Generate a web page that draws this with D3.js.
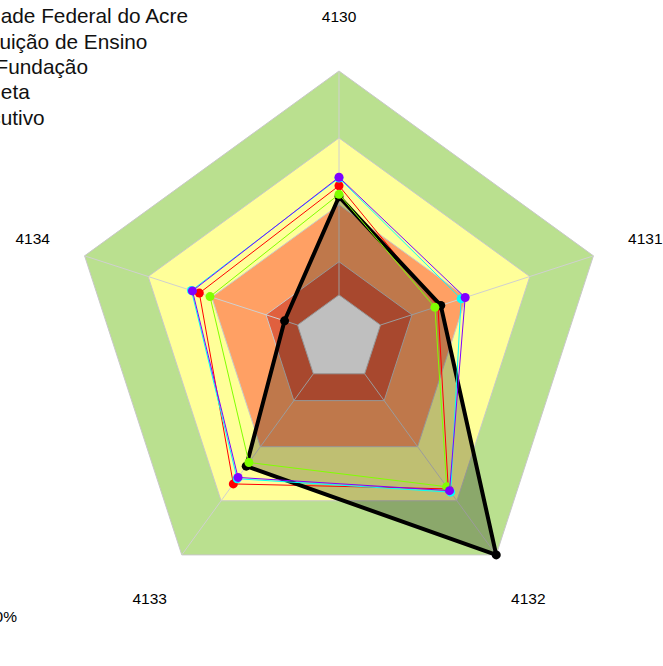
<!DOCTYPE html>
<html>
<head>
    <meta charset="utf-8">
    <title>Radar</title>
    <style>
        body { margin: 0; background: #ffffff; }
        svg { display: block; font-family: "Liberation Sans", Arial, sans-serif; }
    </style>
</head>
<body>
<div id="my_dataviz"></div>
<script src="https://d3js.org/d3.v7.min.js"></script>
<script>
    // axes (indicators) of the radar
    const axes = ["4130", "4131", "4132", "4133", "4134"];

    // series values (0-100 of the outer ring)
    const ufac = [57.1, 38.9, 69.5, 67.2, 54.9];
    const instituicao = [53.9, 37.7, 68.5, 57.3, 50.7];
    const fundacao = [60.0, 48.0, 71.0, 64.8, 58.0];
    const meta = [60.3, 49.6, 70.3, 64.2, 57.6];
    const executivo = [53.0, 40.0, 100, 59.0, 21.4];

    const seriesNames = ["Universidade Federal do Acre", "Instituição de Ensino", "Fundação", "Meta", "Executivo"];
    const seriesColors = ["#FF0000", "#80FF00", "#00FFFF", "#8000FF", "#000000"];

    // background bands (outer limit of each band) and their colours
    const bandLimits = [100, 75, 50, 28.7, 16.3];
    const bandColors = ["#BAE08F", "#FFFF99", "#FFA064", "#E0603E", "#FFFFFF"];

    const width = 663, height = 666;
    const cx = 339, cy = 338.5, R = 267.5;

    const svg = d3.select("#my_dataviz")
        .append("svg")
        .attr("width", width)
        .attr("height", height);

    const r = d3.scaleLinear().domain([0, 100]).range([0, R]);
    const angle = d3.scalePoint().domain(axes.concat(["end"])).range([0, 2 * Math.PI]);

    const g = svg.append("g").attr("transform", `translate(${cx},${cy})`);

    function pt(axis, v) {
        const a = angle(axis) - Math.PI / 2;
        return [r(v) * Math.cos(a), r(v) * Math.sin(a)];
    }
    const poly = vals => axes.map((a, i) => pt(a, vals[i]));
    const line = d3.line().curve(d3.curveLinearClosed);

    // bands
    g.selectAll(".band")
        .data(bandLimits)
        .join("path")
        .attr("d", d => line(axes.map(a => pt(a, d))))
        .attr("fill", (d, i) => bandColors[i])
        .attr("stroke", "#c8c8c8")
        .attr("stroke-width", 1);

    // spokes
    g.selectAll(".spoke")
        .data(axes)
        .join("line")
        .attr("x1", d => pt(d, bandLimits[bandLimits.length - 1])[0])
        .attr("y1", d => pt(d, bandLimits[bandLimits.length - 1])[1])
        .attr("x2", d => pt(d, 100)[0])
        .attr("y2", d => pt(d, 100)[1])
        .attr("stroke", "#d0d0d0")
        .attr("stroke-width", 1);

    // axis labels
    g.selectAll(".lab")
        .data(axes)
        .join("text")
        .attr("x", d => pt(d, 120.4)[0])
        .attr("y", d => pt(d, 120.4)[1])
        .attr("dy", "0.35em")
        .attr("text-anchor", "middle")
        .attr("font-size", 15.5)
        .attr("fill", "#000")
        .text(d => d);

    const series = [ufac, instituicao, fundacao, meta, executivo];

    // black series fill
    g.append("path")
        .attr("d", line(poly(executivo)))
        .attr("fill", "rgba(0,0,0,0.25)");

    // draw order seen in picture: red, black, green, cyan, purple
    const order = [0, 4, 1, 2, 3];
    order.forEach(k => {
        const pts = poly(series[k]);
        const thick = k === 4;
        g.append("path")
            .attr("d", line(pts))
            .attr("fill", "none")
            .attr("stroke", seriesColors[k])
            .attr("stroke-width", thick ? 4 : 1)
            .attr("stroke-linejoin", "round");
        g.selectAll(null)
            .data(pts)
            .join("circle")
            .attr("cx", d => d[0])
            .attr("cy", d => d[1])
            .attr("r", 4.5)
            .attr("fill", seriesColors[k]);
    });

    // legend (partly outside the picture on the left, as in the original)
    const legendX = [-86, -44.5, -4.5, -16.5, -45.5];
    svg.selectAll(".leg")
        .data(seriesNames)
        .join("text")
        .attr("x", (d, i) => legendX[i])
        .attr("y", (d, i) => 23.3 + i * 25.3)
        .attr("font-size", 20.8)
        .attr("fill", "#111")
        .text(d => d);

    svg.append("text")
        .attr("x", 17)
        .attr("y", 622)
        .attr("text-anchor", "end")
        .attr("font-size", 15.5)
        .text("100%");
</script>
</body>
</html>
